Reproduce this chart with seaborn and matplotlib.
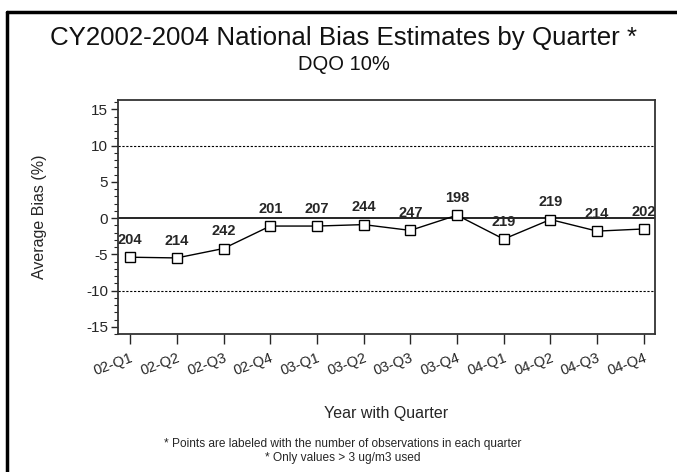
import numpy as np
import pandas as pd
import matplotlib
matplotlib.use('Agg')
import matplotlib.pyplot as plt
import matplotlib.lines as mlines
from matplotlib.ticker import MultipleLocator
import seaborn as sns

# ── Data ────────────────────────────────────────────────────────────────────
quarters = ['02-Q1', '02-Q2', '02-Q3', '02-Q4', '03-Q1', '03-Q2',
            '03-Q3', '03-Q4', '04-Q1', '04-Q2', '04-Q3', '04-Q4']
avg_bias = [-5.4, -5.5, -4.2, -1.1, -1.1, -0.9,
            -1.7, 0.4, -2.9, -0.2, -1.8, -1.5]
n_obs = [204, 214, 242, 201, 207, 244, 247, 198, 219, 219, 214, 202]

df = pd.DataFrame({'quarter': quarters, 'bias': avg_bias, 'n': n_obs})
df['pos'] = np.arange(len(df))

# ── Style ───────────────────────────────────────────────────────────────────
sns.set_style('white')
plt.rcParams['font.family'] = ['Liberation Sans', 'DejaVu Sans']
plt.rcParams['axes.unicode_minus'] = False

fig = plt.figure(figsize=(6.77, 4.72), dpi=100)
ax = fig.add_axes([118/677, 1 - 334/472, (655 - 118)/677, (334 - 100)/472])

# reference lines
ax.axhline(0, color='black', linewidth=1.2, zorder=1)
for y in (10, -10):
    ax.axhline(y, color='black', linewidth=0.8, linestyle=(0, (2, 1.5)), zorder=1)

sns.lineplot(data=df, x='pos', y='bias', ax=ax, color='black', linewidth=1.0,
             marker='s', markersize=7, markerfacecolor='white',
             markeredgecolor='black', markeredgewidth=1.0, zorder=3)

# point labels
for _, row in df.iterrows():
    ax.annotate(str(row['n']), (row['pos'], row['bias']),
                xytext=(0, 12.5), textcoords='offset points',
                ha='center', va='center', fontsize=10.5, fontweight='bold')

ax.set_xlim(-0.26, len(quarters) - 1 + 0.24)
ax.set_ylim(-16, 16.3)
ax.set_xticks(df['pos'])
ax.set_xticklabels(quarters, rotation=20, ha='right', rotation_mode='anchor',
                   fontsize=10.5)
ax.set_yticks([-15, -10, -5, 0, 5, 10, 15])
ax.yaxis.set_minor_locator(MultipleLocator(1))
ax.tick_params(axis='y', which='major', left=True, direction='out',
               length=5, width=1, labelsize=11, pad=2)
ax.tick_params(axis='y', which='minor', left=True, direction='out',
               length=3, width=0.8)
ax.tick_params(axis='x', which='major', bottom=True, direction='out',
               length=7, width=1, pad=5)

for sp in ax.spines.values():
    sp.set_color('#333333')
    sp.set_linewidth(1.3)

ax.set_xlabel('Year with Quarter', fontsize=11.5, labelpad=20)
ax.set_ylabel('Average Bias (%)', fontsize=11.5, labelpad=28)

# titles
fig.text(343.5/677, 1 - 38/472, 'CY2002-2004 National Bias Estimates by Quarter *',
         ha='center', va='center', fontsize=18.6, color='#111111')
fig.text(343.5/677, 1 - 64/472, 'DQO 10%', ha='center', va='center',
         fontsize=14.5, color='#111111')

# footnotes
fig.text(343/677, 1 - 444/472,
         '* Points are labeled with the number of observations in each quarter',
         ha='center', va='center', fontsize=8.6)
fig.text(343/677, 1 - 458/472, '* Only values > 3 ug/m3 used',
         ha='center', va='center', fontsize=8.6)

# outer frame (left and top edges visible)
fig.add_artist(mlines.Line2D([7/677, 7/677], [0, 1 - 12/472],
                             color='black', linewidth=2.5, transform=fig.transFigure))
fig.add_artist(mlines.Line2D([7/677, 1], [1 - 12/472, 1 - 12/472],
                             color='black', linewidth=2.5, transform=fig.transFigure))

plt.savefig('out.png', dpi=100, facecolor='white')
